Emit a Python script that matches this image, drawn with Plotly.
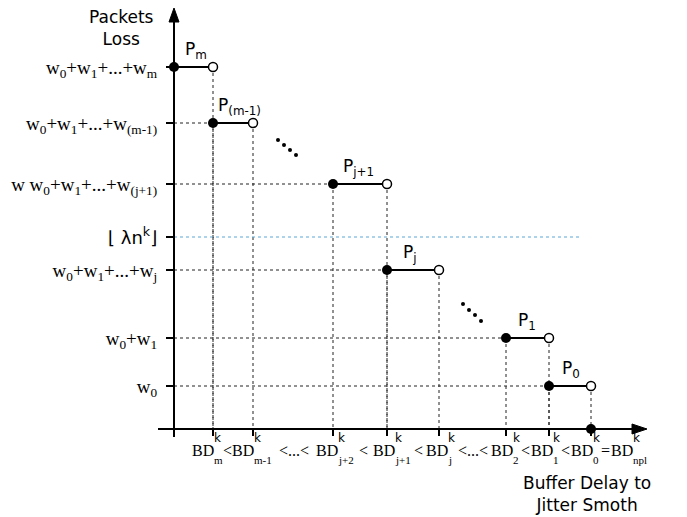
import plotly.graph_objects as go

# ---------------- data ----------------
# break points on the buffer-delay axis (BD_m ... BD_0)
bd_x = [39, 79, 159, 213, 265, 332, 375, 417]
bd_sub = ["m", "m-1", "j+2", "j+1", "j", "2", "1", "0", "npl"]

# packet-loss steps P_m ... P_0
step_start = [0, 39, 159, 213, 332, 375]
step_end = [39, 79, 213, 265, 375, 417]
step_level = [362, 306, 245, 159, 91, 43]
step_labels = ["P<sub>m</sub>", "P<sub>(m-1)</sub>", "P<sub>j+1</sub>",
               "P<sub>j</sub>", "P<sub>1</sub>", "P<sub>0</sub>"]
level_labels = ["w<sub>0</sub>+w<sub>1</sub>+...+w<sub>m</sub>",
                "w<sub>0</sub>+w<sub>1</sub>+...+w<sub>(m-1)</sub>",
                "w w<sub>0</sub>+w<sub>1</sub>+...+w<sub>(j+1)</sub>",
                "w<sub>0</sub>+w<sub>1</sub>+...+w<sub>j</sub>",
                "w<sub>0</sub>+w<sub>1</sub>",
                "w<sub>0</sub>"]
lambda_level = 192
lambda_label = "<span style='font-family:DejaVu Sans;font-size:18px'>\u230a \u03bbn<sup>k</sup>\u230b</span>"
final_point = (417, 0)

ellipsis_x = [104, 110, 116, 122, 289, 295, 301, 307]
ellipsis_y = [289, 284, 279, 274, 125, 119, 114, 108]

# ---------------- figure ----------------
# page body has an 8px margin, so the figure is 8px smaller than the window
W, H = 679, 509
X0, Y0 = 166, 421   # pixel position of origin inside the figure
fig = go.Figure()

dot = dict(color="#222222", width=1, dash="dot")

# horizontal guide lines
hx, hy = [], []
for s, lv in zip(step_start, step_level):
    if s > 0:
        hx += [0, s, None]
        hy += [lv, lv, None]
fig.add_trace(go.Scatter(x=hx, y=hy, mode="lines", line=dot, hoverinfo="skip"))

# vertical guide lines
vx, vy = [], []
for s, e, lv in zip(step_start, step_end, step_level):
    if s > 0:
        vx += [s, s, None]
        vy += [lv, 0, None]
    vx += [e, e, None]
    vy += [lv, 0, None]
fig.add_trace(go.Scatter(x=vx, y=vy, mode="lines", line=dot, hoverinfo="skip"))

# lambda line
fig.add_trace(go.Scatter(x=[0, 407], y=[lambda_level, lambda_level], mode="lines",
                         line=dict(color="#5aa7d6", width=1, dash="dot"), hoverinfo="skip"))

# axes lines
fig.add_trace(go.Scatter(x=[0, 0], y=[-8, 408], mode="lines",
                         line=dict(color="black", width=2), hoverinfo="skip"))
fig.add_trace(go.Scatter(x=[-16, 459], y=[0, 0], mode="lines",
                         line=dict(color="black", width=2), hoverinfo="skip"))
# arrow heads
fig.add_trace(go.Scatter(x=[-5, 5, 0, -5], y=[407, 407, 421, 407], mode="lines", fill="toself",
                         fillcolor="black", line=dict(color="black", width=1), hoverinfo="skip"))
fig.add_trace(go.Scatter(x=[458, 458, 473, 458], y=[-5, 5, 0, -5], mode="lines", fill="toself",
                         fillcolor="black", line=dict(color="black", width=1), hoverinfo="skip"))

# steps
sx, sy = [], []
for s, e, lv in zip(step_start, step_end, step_level):
    sx += [s, e, None]
    sy += [lv, lv, None]
fig.add_trace(go.Scatter(x=sx, y=sy, mode="lines", line=dict(color="black", width=2),
                         hoverinfo="skip"))
# filled / open circles
fig.add_trace(go.Scatter(x=step_start + [final_point[0]], y=step_level + [final_point[1]],
                         mode="markers", marker=dict(color="black", size=10), hoverinfo="skip"))
fig.add_trace(go.Scatter(x=step_end, y=step_level, mode="markers",
                         marker=dict(color="white", size=9, line=dict(color="black", width=1.5)),
                         hoverinfo="skip"))
# ellipsis dots
fig.add_trace(go.Scatter(x=ellipsis_x, y=ellipsis_y, mode="markers",
                         marker=dict(color="black", size=4), hoverinfo="skip"))

annotations = []
# step labels
label_dx = [9, 3, 8, 14, 10, 11]
for s, lv, t, dx in zip(step_start, step_level, step_labels, label_dx):
    annotations.append(dict(x=s + dx, y=lv + 3, text=t, xanchor="left", yanchor="bottom",
                            showarrow=False, font=dict(family="DejaVu Sans", size=17, color="black")))

# x-axis composite label (stacked super/subscripts)
sup_x = [40, 80, 164, 221, 274, 339, 379, 419, 459]
sep_text = ["<", "<...<", "<", "<", "<...<", "<", "<", "="]
sep_x = [53, 120, 189, 244, 299, 351, 391, 431]
serif = "Liberation Serif"
for xk, sb in zip(sup_x, bd_sub):
    annotations.append(dict(x=xk, y=-21, text="BD", xanchor="right", yanchor="middle",
                            showarrow=False, borderpad=0, borderwidth=0,
                            font=dict(family=serif, size=16, color="black")))
    annotations.append(dict(x=xk, y=-9, text="k", xanchor="left", yanchor="middle",
                            showarrow=False, borderpad=0, borderwidth=0,
                            font=dict(family="DejaVu Sans", size=12, color="black")))
    annotations.append(dict(x=xk, y=-31, text=sb, xanchor="left", yanchor="middle",
                            showarrow=False, borderpad=0, borderwidth=0,
                            font=dict(family=serif, size=11, color="black")))
for xs, st in zip(sep_x, sep_text):
    annotations.append(dict(x=xs, y=-21, text=st.replace("<", "&lt;"), xanchor="center",
                            yanchor="middle", showarrow=False, borderpad=0, borderwidth=0,
                            font=dict(family=serif, size=16, color="black")))

# axis titles
annotations.append(dict(x=-53, y=401, text="Packets<br>Loss", xanchor="center", yanchor="middle",
                        showarrow=False, font=dict(family="DejaVu Sans", size=17, color="black")))
annotations.append(dict(x=413, y=-65, text="Buffer Delay to<br>Jitter Smoth", xanchor="center",
                        yanchor="middle", showarrow=False,
                        font=dict(family="DejaVu Sans", size=17, color="black")))

fig.update_layout(
    width=W, height=H,
    margin=dict(l=0, r=0, t=0, b=0),
    paper_bgcolor="white", plot_bgcolor="white",
    showlegend=False,
    annotations=annotations,
    xaxis=dict(range=[-X0, W - X0], domain=[0, 1], anchor="free", position=(H - Y0) / H,
               showgrid=False, zeroline=False, showline=False,
               tickvals=bd_x, ticks="outside", ticklen=6, tickwidth=1.5, tickcolor="black",
               showticklabels=False, fixedrange=True),
    yaxis=dict(range=[Y0 - H, Y0], domain=[0, 1], anchor="free", position=X0 / W,
               showgrid=False, zeroline=False, showline=False,
               tickvals=step_level + [lambda_level], ticktext=level_labels + [lambda_label],
               ticks="outside", ticklen=8, tickwidth=2, tickcolor="black", ticklabelstandoff=5,
               tickfont=dict(family=serif, size=19, color="black"), fixedrange=True),
)

fig.write_html("out.html")
